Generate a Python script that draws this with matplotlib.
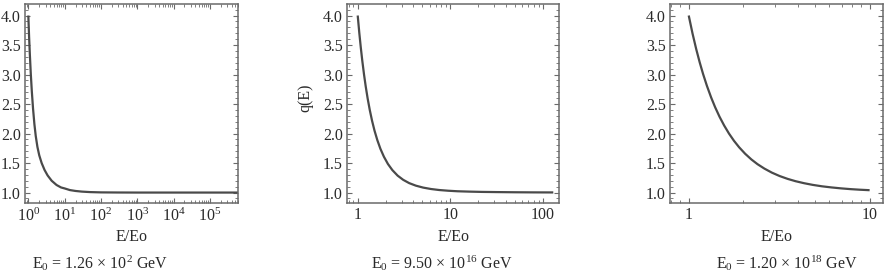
import math
import matplotlib
matplotlib.use("Agg")
import matplotlib.pyplot as plt
from matplotlib.ticker import LogLocator, NullFormatter, MultipleLocator, FuncFormatter

plt.rcParams["font.family"] = ["Liberation Serif", "DejaVu Serif"]
plt.rcParams["mathtext.fontset"] = "custom"
plt.rcParams["mathtext.rm"] = "Liberation Serif"
plt.rcParams["mathtext.it"] = "Liberation Serif:italic"

# ===== data =====
# panel 1: E0 = 1.26e2 GeV
ratio1 = [1.00, 1.05, 1.10, 1.17, 1.25, 1.35, 1.47, 1.60, 1.78, 2.00, 2.33, 2.80,
          3.40, 4.40, 6.00, 8.00, 10.0, 14.0, 20.0, 30.0, 50.0, 100.0, 300.0,
          1e3, 1e4, 1e5, 6.1e5]
q1 = [4.00, 3.64, 3.35, 3.01, 2.71, 2.42, 2.16, 1.96, 1.774, 1.631, 1.50, 1.383,
      1.290, 1.200, 1.128, 1.086, 1.070, 1.042, 1.027, 1.016, 1.008, 1.003, 1.001,
      1.00, 1.00, 1.00, 1.00]

# panel 2: E0 = 9.50e16 GeV
ratio2 = [1.00, 1.04, 1.08, 1.12, 1.17, 1.22, 1.28, 1.35, 1.43, 1.52, 1.63, 1.76,
          1.92, 2.12, 2.37, 2.70, 3.10, 3.60, 4.25, 5.10, 6.20, 7.60, 9.50, 12.0,
          16.0, 22.0, 32.0, 50.0, 80.0, 130.0]
q2 = [4.00, 3.708, 3.456, 3.237, 3.001, 2.800, 2.596, 2.399, 2.215, 2.048, 1.888, 1.741,
      1.607, 1.485, 1.380, 1.287, 1.216, 1.160, 1.117, 1.084, 1.060, 1.043, 1.031, 1.022,
      1.016, 1.011, 1.008, 1.005, 1.003, 1.002]

# panel 3: E0 = 1.20e18 GeV
ratio3 = [1.00, 1.05, 1.10, 1.15, 1.20, 1.26, 1.33, 1.40, 1.48, 1.57, 1.67, 1.78,
          1.90, 2.05, 2.22, 2.40, 2.62, 2.88, 3.18, 3.52, 3.90, 4.35, 4.85, 5.45,
          6.15, 6.95, 7.85, 8.85, 10.0]
q3 = [4.00, 3.693, 3.431, 3.206, 3.011, 2.810, 2.612, 2.445, 2.285, 2.136, 1.999, 1.876,
      1.767, 1.658, 1.561, 1.481, 1.406, 1.338, 1.280, 1.232, 1.192, 1.158, 1.130, 1.106,
      1.087, 1.071, 1.058, 1.048, 1.040]

captions = [r"E$_0$ = 1.26 $\times$ 10$^{2}$ GeV",
            r"E$_0$ = 9.50 $\times$ 10$^{16}$ GeV",
            r"E$_0$ = 1.20 $\times$ 10$^{18}$ GeV"]
xlims = [(0.81, 6.1e5), (0.766, 151), (0.788, 11.9)]
ylim = (0.818, 4.195)
yticks = [1.0, 1.5, 2.0, 2.5, 3.0, 3.5, 4.0]

# ===== layout (pixels) =====
W, H = 889, 276
left_right = [(25, 238.3), (347, 559.3), (670, 883.3)]
top, bottom = 4, 203.3
caption_x = [100, 442, 787]
caption_y = 263
fs = 11.5

fig = plt.figure(figsize=(W / 100, H / 100), dpi=100)
line_col = "#4a4a4a"
frame_col = "#6a6a6a"
text_col = "#2a2a2a"

data = [(ratio1, q1), (ratio2, q2), (ratio3, q3)]
for i, ((x0, x1), (xs, ys)) in enumerate(zip(left_right, data)):
    ax = fig.add_axes([x0 / W, 1 - bottom / H, (x1 - x0) / W, (bottom - top) / H])
    ax.plot(xs, ys, color=line_col, lw=1.6, solid_capstyle="butt")
    ax.set_xscale("log")
    ax.set_xlim(*xlims[i])
    ax.set_ylim(*ylim)

    ax.set_yticks(yticks)
    ax.yaxis.set_major_formatter(FuncFormatter(lambda v, p: f"{v:.1f}"))
    ax.yaxis.set_minor_locator(MultipleLocator(0.1))

    ax.xaxis.set_major_locator(LogLocator(base=10, numticks=12))
    ax.xaxis.set_minor_locator(LogLocator(base=10, subs=range(2, 10), numticks=12))
    ax.xaxis.set_minor_formatter(NullFormatter())
    if i == 0:
        ax.xaxis.set_major_formatter(FuncFormatter(lambda v, p: r"10$^{%d}$" % round(math.log10(v))))
    else:
        ax.xaxis.set_major_formatter(FuncFormatter(lambda v, p: "%g" % v))

    ax.tick_params(which="both", direction="in", top=True, right=True,
                   color=frame_col, labelcolor=text_col, labelsize=fs)
    ax.tick_params(which="major", length=3.5, width=0.8, pad=3)
    ax.tick_params(which="minor", length=2, width=0.6)
    for s in ax.spines.values():
        s.set_color(frame_col)
        s.set_linewidth(1.1)

    ax.set_xlabel("E/Eo", fontsize=fs, color=text_col)
    ax.xaxis.set_label_coords(0.5, (bottom - 229) / (bottom - top))
    if i == 1:
        fig.text(305 / W, 1 - 97.5 / H, "q(E)", rotation=90, ha="center", va="center",
                 fontsize=fs, color=text_col)

    fig.text(caption_x[i] / W, 1 - caption_y / H, captions[i], ha="center", va="center",
             fontsize=fs, color=text_col)

fig.savefig("out.png", dpi=100)
